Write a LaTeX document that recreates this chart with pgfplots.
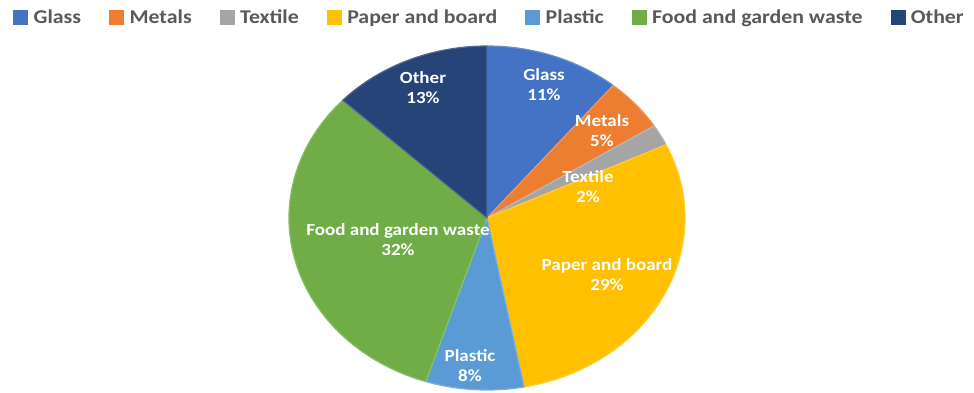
\documentclass[border=0pt]{standalone}
\usepackage{pgfplots}
\pgfplotsset{compat=1.18}
\usepackage{fontspec}
\setmainfont{Carlito}[FakeStretch=1.12]
\definecolor{glass}{HTML}{4472C4}
\definecolor{metals}{HTML}{ED7D31}
\definecolor{textile}{HTML}{A5A5A5}
\definecolor{paper}{HTML}{FFC000}
\definecolor{plastic}{HTML}{5B9BD5}
\definecolor{food}{HTML}{70AD47}
\definecolor{other}{HTML}{264478}
\definecolor{legtext}{HTML}{595959}
% slice: start %, end % (cumulative), colour
\newcommand\slice[3]{%
  \filldraw[fill=#3, draw=#3!80!white, line width=1.2pt, line join=round]
    (axis cs:487,173) -- ([shift={(axis cs:487,173)}]{90-3.6*#1}:198pt and 172pt)
    arc[start angle={90-3.6*#1}, end angle={90-3.6*#2}, x radius=198pt, y radius=172pt] -- cycle;}
\newcommand\plabel[3]{%
  \node[text=white, font=\bfseries\fontsize{17}{20}\selectfont, align=center] at (axis cs:#1,#2) {#3};}
\begin{document}
\begin{tikzpicture}
\begin{axis}[
  x=1pt, y=1pt, xmin=0, xmax=974, ymin=0, ymax=391,
  scale only axis, hide axis, clip=false,
  legend columns=-1,
  legend style={at={(axis cs:489,374)}, anchor=center, draw=none, fill=none,
    font=\bfseries\fontsize{19.5}{22}\selectfont, text=legtext,
    nodes={inner sep=1pt},
    /tikz/every odd column/.append style={column sep=5pt},
    /tikz/every even column/.append style={column sep=27pt}},
]
\path (axis cs:0,0) rectangle (axis cs:974,391);
% values (%): Glass 11, Metals 5, Textile 2, Paper and board 29, Plastic 8, Food and garden waste 32, Other 13
\slice{0}{11}{glass}
\slice{11}{16}{metals}
\slice{16}{18}{textile}
\slice{18}{47}{paper}
\slice{47}{55}{plastic}
\slice{55}{87}{food}
\slice{87}{100}{other}
\plabel{544}{306}{Glass\\11\%}
\plabel{602}{260}{Metals\\5\%}
\plabel{588}{204}{Textile\\2\%}
\plabel{607}{116}{Paper and board\\29\%}
\plabel{470}{25}{Plastic\\8\%}
\plabel{398}{151}{Food and garden waste\\32\%}
\plabel{423}{303}{Other\\13\%}
\addlegendimage{legend image code/.code={\fill[glass] (0pt,-7pt) rectangle (14pt,7pt);}}
\addlegendentry{Glass}
\addlegendimage{legend image code/.code={\fill[metals] (0pt,-7pt) rectangle (14pt,7pt);}}
\addlegendentry{Metals}
\addlegendimage{legend image code/.code={\fill[textile] (0pt,-7pt) rectangle (14pt,7pt);}}
\addlegendentry{Textile}
\addlegendimage{legend image code/.code={\fill[paper] (0pt,-7pt) rectangle (14pt,7pt);}}
\addlegendentry{Paper and board}
\addlegendimage{legend image code/.code={\fill[plastic] (0pt,-7pt) rectangle (14pt,7pt);}}
\addlegendentry{Plastic}
\addlegendimage{legend image code/.code={\fill[food] (0pt,-7pt) rectangle (14pt,7pt);}}
\addlegendentry{Food and garden waste}
\addlegendimage{legend image code/.code={\fill[other] (0pt,-7pt) rectangle (14pt,7pt);}}
\addlegendentry{Other}
\end{axis}
\end{tikzpicture}
\end{document}
